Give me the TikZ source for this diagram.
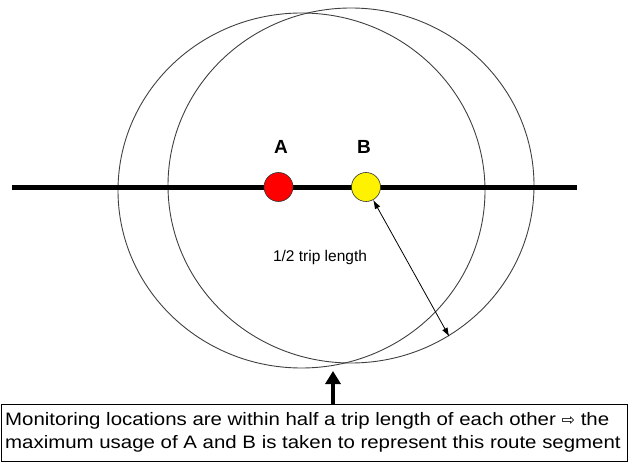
\documentclass[tikz,border=0pt]{standalone}
\usepackage{fontspec}
\setmainfont{Liberation Sans}
\newfontfamily\notefont[FakeStretch=1.135]{Liberation Sans}
\newfontfamily\symfont{DejaVu Sans}
\usetikzlibrary{arrows.meta}
\begin{document}
\begin{tikzpicture}[x=1pt,y=-1pt,
  circ/.style={draw=black!75, line width=0.9pt},
  dot/.style={circle, draw=black!80, line width=0.6pt, minimum size=29pt, inner sep=0pt},
  lbl/.style={font=\fontsize{19}{22}\selectfont\bfseries, inner sep=0pt},
  txt/.style={font=\notefont\fontsize{18}{22}\selectfont, inner sep=0pt, anchor=base west},
  route/.style={line width=5pt, black}]
\useasboundingbox (0,0) rectangle (629,462);
% range circles
\draw[circ] (301.5,190.5) ellipse [x radius=183.5pt, y radius=177.5pt];
\draw[circ] (351,185.5) ellipse [x radius=183pt, y radius=177.5pt];
% route line
\coordinate (L) at (12,188);
\coordinate (R) at (577,188);
\draw[route] (L) -- (R);
% monitoring points
\node[dot, fill=red] (A) at (278.5,187) {};
\node[dot, fill=yellow] (B) at (366,187) {};
\node[lbl] (la) at (281,147) {A};
\node[lbl] (lb) at (364,147) {B};
% half trip length
\coordinate (P) at (449.3,336.7);
\draw[line width=0.8pt, {Latex[length=9pt,width=6pt]}-{Latex[length=9pt,width=6pt]}] (B.-61) -- (P);
\node[font=\fontsize{15.5}{18}\selectfont, inner sep=0pt] (hl) at (320,257) {1/2 trip length};
% note box
\node[draw=black, line width=0.8pt, anchor=north west, minimum width=626pt, minimum height=57pt, inner sep=0pt] (note) at (0.5,404) {};
\node[txt] (t1) at (5,425) {Monitoring locations are within half a trip length of each other {\symfont\fontsize{16}{18}\selectfont ⇨} the};
\node[txt] (t2) at (5,448) {maximum usage of A and B is taken to represent this route segment};
% pointer arrow
\coordinate (T) at (333,371);
\draw[line width=4.5pt, -{Triangle[length=13pt,width=15pt]}] (note.north -| T) -- (T);
\end{tikzpicture}
\end{document}
